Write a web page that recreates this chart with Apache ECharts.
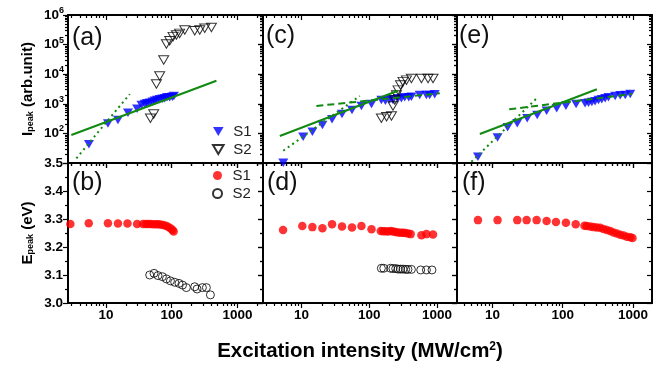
<!DOCTYPE html>
<html>
<head>
<meta charset="utf-8">
<script src="https://cdn.jsdelivr.net/npm/echarts@6/dist/echarts.min.js"></script>
<style>
  html, body { margin: 0; padding: 0; background: #fff; }
  #chart { width: 657px; height: 366px; }
</style>
</head>
<body>
<div id="chart"></div>
<script>
// tick values
const xMajor = [10, 100, 1000]
const xMinor = [3, 4, 5, 6, 7, 8, 9, 20, 30, 40, 50, 60, 70, 80, 90, 200, 300, 400, 500, 600, 700, 800, 900, 2000]
const yLogMajor = [10, 100, 1000, 10000, 100000, 1000000]
const yLogLabels = [100, 1000, 10000, 100000, 1000000]
const yLogMinor = [20, 30, 40, 50, 60, 70, 80, 90, 200, 300, 400, 500, 600, 700, 800, 900,
  2000, 3000, 4000, 5000, 6000, 7000, 8000, 9000, 20000, 30000, 40000, 50000, 60000, 70000, 80000, 90000,
  200000, 300000, 400000, 500000, 600000, 700000, 800000, 900000]
const yLinMajor = [3.0, 3.1, 3.2, 3.3, 3.4, 3.5]
const yLinMinor = [3.05, 3.15, 3.25, 3.35, 3.45]

// (a) peak intensity
const aS1 = [[5.5, 43], [10.7, 218], [15.2, 282], [21.6, 500], [29.7, 680], [34.6, 910], [38.8, 985], [42.1, 1040],
  [46.2, 1090], [50.8, 1180], [55.1, 1270], [59.7, 1340], [65.6, 1420], [72.1, 1490], [78.2, 1535], [84.7, 1660],
  [93.1, 1660], [102, 1740], [108, 1840]]
const aS2 = [[47.4, 325], [53.2, 455], [58.5, 4650], [65.6, 8700], [75.5, 30000], [83, 105000], [93.2, 135000],
  [104.7, 186000], [117.8, 210000], [132, 240000], [158, 310000], [224, 294000], [267, 310000], [318, 355000], [402, 380000]]
const aFit = [[2.97, 88], [479, 6000]]
const aDot = [[3.54, 14.4], [23, 2140]]

// (b) peak energy
const bS1 = [[2.87, 3.282], [5.46, 3.285], [10.7, 3.285], [15.2, 3.284], [21.2, 3.284], [29.7, 3.282], [36.6, 3.282],
  [40.2, 3.282], [43.6, 3.282], [47.4, 3.282], [51.9, 3.281], [57, 3.281], [61.8, 3.281], [67.3, 3.28], [73.8, 3.279],
  [81.1, 3.276], [87.9, 3.272], [95.6, 3.267], [102.5, 3.261], [107, 3.255]]
const bS2 = [[46.2, 3.100], [53.8, 3.106], [61.8, 3.098], [72.1, 3.094], [83, 3.086], [95.6, 3.079], [111, 3.074],
  [129, 3.070], [146, 3.064], [167, 3.055], [224, 3.058], [243, 3.050], [293, 3.055], [337, 3.055], [388, 3.029]]

// (c)
const cS1 = [[5.4, 10.2], [10.6, 77], [14.5, 114], [20.4, 192], [28.3, 300], [39.7, 452], [55.7, 617], [76.7, 850],
  [108, 985], [151, 1340], [173, 1270], [200, 1420], [224, 1340], [266, 1535], [298, 1535], [334, 1660], [383, 1660],
  [419, 1740], [556, 1980], [697, 1980], [780, 1980], [925, 2090]]
const cS2 = [[151, 324], [180, 366], [213, 387], [224, 843], [238, 1343], [252, 1980], [266, 2900], [289, 4300],
  [315, 5600], [354, 6300], [419, 7200], [589, 7200], [737, 7200], [873, 7200]]
const cFit = [[4.8, 82], [266, 2750]]
const cDot = [[5.4, 26], [72.5, 1830]]
const cDash = [[16.6, 843], [1100, 2270]]

// (d)
const dS1 = [[5.36, 3.261], [10.3, 3.275], [14.5, 3.271], [20.4, 3.267], [28.3, 3.281], [39.7, 3.273], [55.7, 3.270],
  [76.7, 3.275], [108, 3.263], [148, 3.257], [160, 3.256], [173, 3.256], [189, 3.255], [207, 3.257], [224, 3.255],
  [243, 3.254], [266, 3.252], [292, 3.251], [315, 3.251], [342, 3.250], [374, 3.248], [409, 3.246], [589, 3.242],
  [698, 3.246], [873, 3.245]]
const dS2 = [[151, 3.124], [164, 3.124], [206, 3.124], [224, 3.123], [246, 3.123], [266, 3.121], [289, 3.121],
  [315, 3.121], [345, 3.120], [373, 3.120], [419, 3.120], [575, 3.118], [698, 3.118], [843, 3.118]]

// (e)
const eS1 = [[6.2, 16.3], [11.8, 72], [16.4, 161], [22.5, 219], [31.2, 324], [43.3, 420], [59, 585], [82, 705],
  [111, 863], [155, 980], [208, 1040], [233, 1090], [260, 1150], [289, 1210], [323, 1340], [360, 1420], [402, 1530],
  [448, 1660], [558, 1840], [659, 1940], [777, 1980], [915, 2140]]
const eFit = [[6.6, 95.5], [306, 3100]]
const eDot = [[5.0, 11], [42.5, 1535]]
const eDash = [[17.3, 652], [968, 2140]]

// (f)
const fS1 = [[6.2, 3.296], [11.8, 3.296], [22.5, 3.296], [30.6, 3.296], [42.5, 3.296], [59, 3.293], [80, 3.289],
  [111, 3.287], [153, 3.281], [204, 3.276], [220, 3.275], [246, 3.273], [274, 3.271], [306, 3.270], [341, 3.269],
  [380, 3.264], [425, 3.261], [474, 3.257], [528, 3.252], [590, 3.248], [659, 3.244], [735, 3.241], [820, 3.237],
  [915, 3.235], [986, 3.232]]

const FONT = '"Liberation Sans", Arial, sans-serif'
const BLUE = '#0000ff'
const RED = '#ff0000'
const GREEN = '#118a11'
const TRI = 'path://M0,0L20,0L10,17Z'

const panels = [
  { tag: '(a)', grid: { left: 68, top: 15, width: 195, height: 148 }, x: [2.64, 2450], top: true, yLab: true, xLab: false, lab: [72, 26] },
  { tag: '(c)', grid: { left: 263, top: 15, width: 194, height: 148 }, x: [2.71, 1972], top: true, yLab: false, xLab: false, lab: [266, 24] },
  { tag: '(e)', grid: { left: 457, top: 15, width: 195, height: 148 }, x: [3.12, 1868], top: true, yLab: false, xLab: false, lab: [459, 24] },
  { tag: '(b)', grid: { left: 68, top: 163, width: 195, height: 140 }, x: [2.64, 2450], top: false, yLab: true, xLab: true, lab: [72, 171] },
  { tag: '(d)', grid: { left: 263, top: 163, width: 194, height: 140 }, x: [2.71, 1972], top: false, yLab: false, xLab: true, lab: [267, 171], xName: true },
  { tag: '(f)', grid: { left: 457, top: 163, width: 195, height: 140 }, x: [3.12, 1868], top: false, yLab: false, xLab: true, lab: [462, 171] }
]

const axisLine = { show: true, onZero: false, lineStyle: { color: '#000', width: 2 } }
const tickStyle = { color: '#000', width: 1.2 }
const labelFont = { color: '#000', fontSize: 13.5, fontWeight: 'bold', fontFamily: FONT }

const grids = []
const xAxes = []
const yAxes = []
const titles = []

function fourAxes(list, base, sides, major, minor, label) {
  // major + minor on the outer side, mirrored major + minor inside on the opposite side
  list.push(Object.assign({}, base, {
    position: sides[0], axisLine: axisLine,
    axisTick: { show: true, inside: false, length: 5, customValues: major, lineStyle: tickStyle },
    axisLabel: label || { show: false }
  }))
  list.push(Object.assign({}, base, {
    position: sides[0], axisLine: { show: false },
    axisTick: { show: true, inside: false, length: 3, customValues: minor, lineStyle: tickStyle },
    axisLabel: { show: false }
  }))
  list.push(Object.assign({}, base, {
    position: sides[1], axisLine: axisLine,
    axisTick: { show: true, inside: true, length: 5, customValues: major, lineStyle: tickStyle },
    axisLabel: { show: false }
  }))
  list.push(Object.assign({}, base, {
    position: sides[1], axisLine: { show: false },
    axisTick: { show: true, inside: true, length: 3, customValues: minor, lineStyle: tickStyle },
    axisLabel: { show: false }
  }))
  return list[list.length - 4]
}

panels.forEach((p, i) => {
  grids.push(Object.assign({ show: false }, p.grid))
  titles.push({
    text: p.tag, left: p.lab[0], top: p.lab[1], padding: 0,
    textStyle: { fontSize: 25, fontWeight: 'normal', color: '#111', fontFamily: FONT }
  })

  const xBase = {
    type: 'log', logBase: 10, gridIndex: i, min: p.x[0], max: p.x[1],
    splitLine: { show: false }, minorTick: { show: false }
  }
  const xMain = fourAxes(xAxes, xBase, ['bottom', 'top'], xMajor, xMinor, p.xLab ? Object.assign({
    show: true, customValues: xMajor, margin: 5,
    formatter: v => String(Math.round(v))
  }, labelFont) : null)
  if (p.xName) {
    xMain.name = 'Excitation intensity (MW/cm{sup|2})'
    xMain.nameLocation = 'middle'
    xMain.nameGap = 38
    xMain.nameTextStyle = {
      color: '#000', fontSize: 20.5, fontWeight: 'bold', fontFamily: FONT,
      rich: {
        sup: { fontSize: 12, fontWeight: 'bold', fontFamily: FONT, verticalAlign: 'top', lineHeight: 12, color: '#000' }
      }
    }
  }

  let yBase, yLabel = null, yName = ''
  if (p.top) {
    yBase = { type: 'log', logBase: 10, gridIndex: i, min: 10, max: 1000000, splitLine: { show: false }, minorTick: { show: false } }
    if (p.yLab) {
      yLabel = Object.assign({
        show: true, customValues: yLogLabels, margin: 4,
        formatter: v => '{b|10}{s|' + Math.round(Math.log10(v)) + '}',
        rich: {
          b: { fontSize: 13.5, fontWeight: 'bold', fontFamily: FONT, lineHeight: 18, color: '#000' },
          s: { fontSize: 9, fontWeight: 'bold', fontFamily: FONT, lineHeight: 10, verticalAlign: 'top', color: '#000' }
        }
      }, labelFont)
      yName = 'I{sub|peak} (arb.unit)'
    }
  } else {
    yBase = { type: 'value', gridIndex: i, min: 3.0, max: 3.5, splitLine: { show: false }, minorTick: { show: false } }
    if (p.yLab) {
      yLabel = Object.assign({
        show: true, customValues: yLinMajor, margin: 5, showMinLabel: true, showMaxLabel: true,
        formatter: v => v.toFixed(1)
      }, labelFont)
      yName = 'E{sub|peak} (eV)'
    }
  }
  const yMain = fourAxes(yAxes, yBase, ['left', 'right'], p.top ? yLogMajor : yLinMajor, p.top ? yLogMinor : yLinMinor, yLabel)
  if (yName) {
    yMain.name = yName
    yMain.nameLocation = 'middle'
    yMain.nameGap = 33
    yMain.nameTextStyle = {
      color: '#000', fontSize: 15, fontWeight: 'bold', fontFamily: FONT,
      rich: {
        sub: { fontSize: 9, fontWeight: 'bold', fontFamily: FONT, verticalAlign: 'bottom', lineHeight: 9, color: '#000' }
      }
    }
  }
})

const series = []
function scatter(name, pi, data, kind) {
  const s = {
    type: 'scatter', name: name, xAxisIndex: pi * 4, yAxisIndex: pi * 4, data: data,
    silent: true, z: 2
  }
  if (kind === 'triFill') Object.assign(s, { symbol: TRI, symbolSize: [10, 8.5], itemStyle: { color: BLUE } })
  if (kind === 'triOpen') Object.assign(s, { symbol: TRI, symbolSize: [10, 8.5], itemStyle: { color: 'rgba(255,255,255,0)', borderColor: '#000', borderWidth: 1 } })
  if (kind === 'dotFill') Object.assign(s, { symbol: 'circle', symbolSize: 8.5, itemStyle: { color: RED } })
  if (kind === 'dotOpen') Object.assign(s, { symbol: 'circle', symbolSize: 8, itemStyle: { color: 'rgba(255,255,255,0)', borderColor: '#000', borderWidth: 1 } })
  series.push(s)
}
function fitLine(pi, data, type) {
  series.push({
    type: 'line', xAxisIndex: pi * 4, yAxisIndex: pi * 4, data: data, symbol: 'none', silent: true, z: 3,
    lineStyle: { color: GREEN, width: 2, type: type }
  })
}

scatter('S1', 0, aS1, 'triFill')
scatter('S2', 0, aS2, 'triOpen')
fitLine(0, aFit, 'solid')
fitLine(0, aDot, [2, 3.5])

scatter('S1', 1, cS1, 'triFill')
scatter('S2', 1, cS2, 'triOpen')
fitLine(1, cFit, 'solid')
fitLine(1, cDot, [2, 3.5])
fitLine(1, cDash, [7, 4])

scatter('S1', 2, eS1, 'triFill')
fitLine(2, eFit, 'solid')
fitLine(2, eDot, [2, 3.5])
fitLine(2, eDash, [7, 4])

scatter('S1 ', 3, bS1, 'dotFill')
scatter('S2 ', 3, bS2, 'dotOpen')
scatter('S1 ', 4, dS1, 'dotFill')
scatter('S2 ', 4, dS2, 'dotOpen')
scatter('S1 ', 5, fS1, 'dotFill')

const legendBase = {
  orient: 'vertical', itemGap: 3, itemWidth: 20, itemHeight: 9, selectedMode: false, padding: 0,
  textStyle: { fontSize: 15, color: '#222', fontFamily: FONT }
}

const chart = echarts.init(document.getElementById('chart'), null, { renderer: 'canvas' })
chart.setOption({
  animation: false,
  backgroundColor: '#fff',
  title: titles,
  legend: [
    Object.assign({}, legendBase, { left: 212, top: 124, data: [{ name: 'S1', icon: TRI }, { name: 'S2', icon: TRI }] }),
    Object.assign({}, legendBase, { left: 212, top: 168, data: [{ name: 'S1 ', icon: 'circle' }, { name: 'S2 ', icon: 'circle' }] })
  ],
  grid: grids,
  xAxis: xAxes,
  yAxis: yAxes,
  series: series
})
</script>
</body>
</html>
